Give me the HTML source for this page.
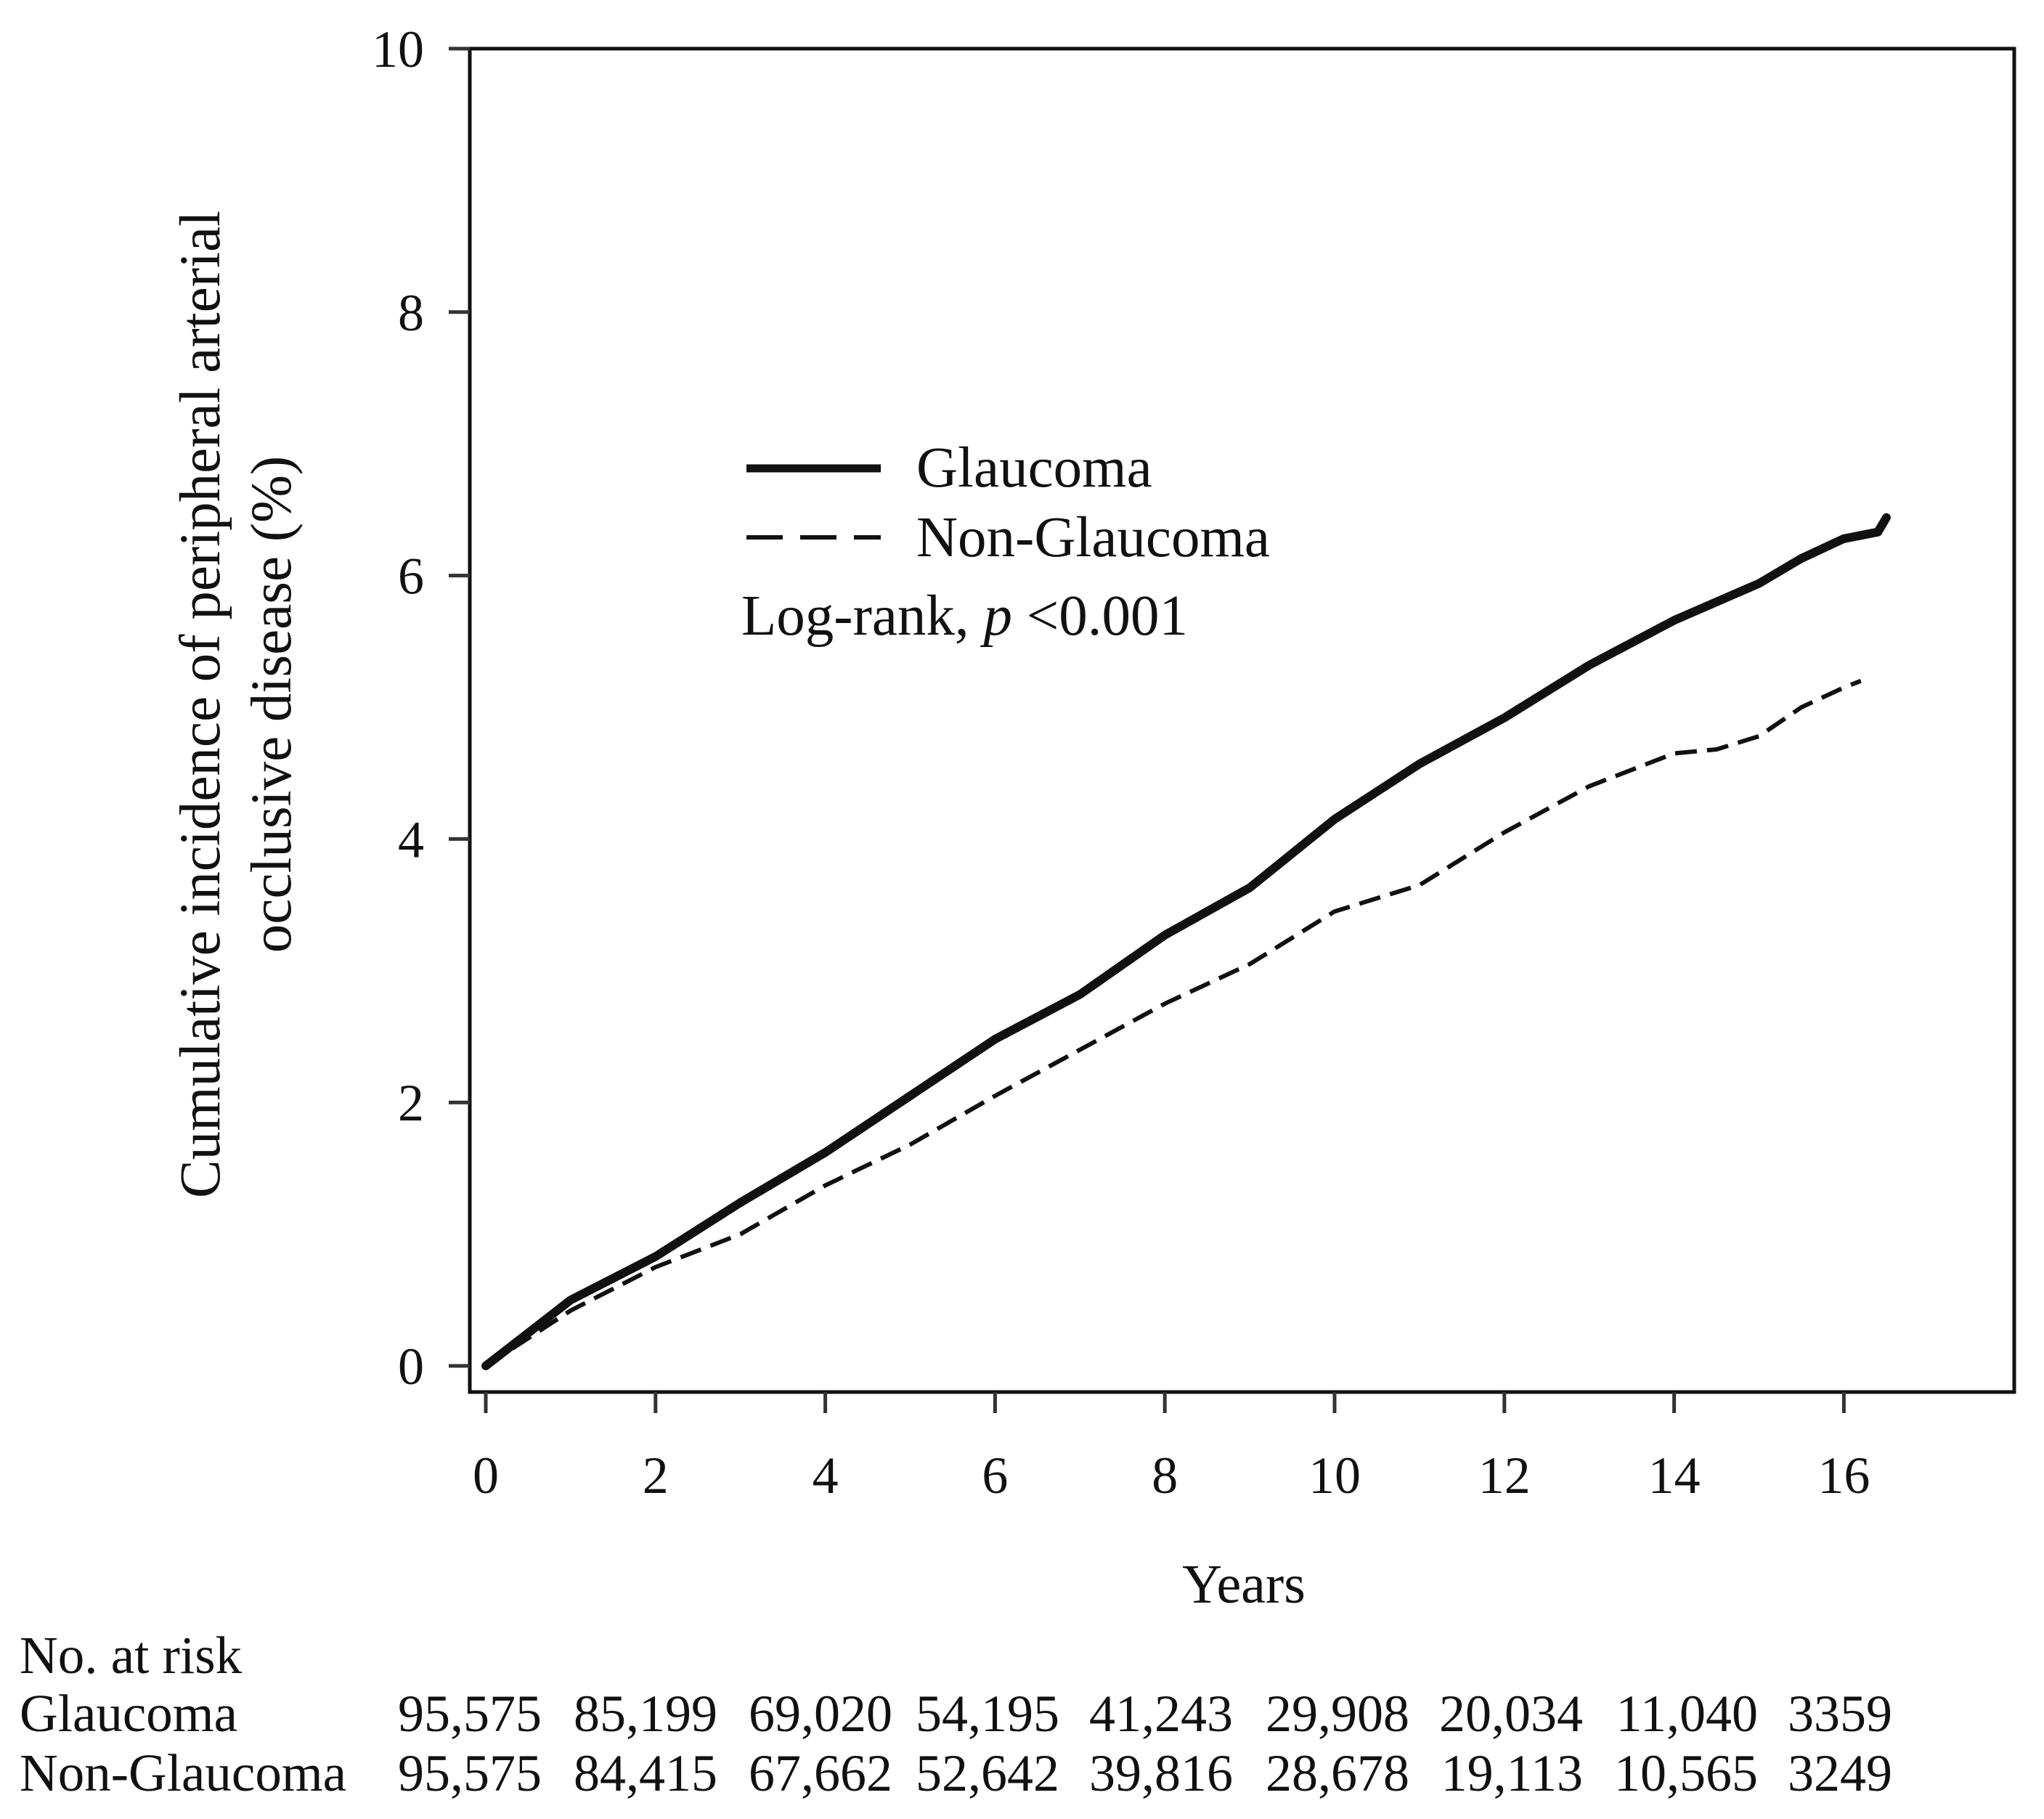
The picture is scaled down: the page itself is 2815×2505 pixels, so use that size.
<!DOCTYPE html>
<html><head><meta charset="utf-8"><style>
html,body{margin:0;padding:0;background:#fff;}
svg{display:block;font-family:"Liberation Serif","DejaVu Serif",serif;}
</style></head><body>
<svg id="chart" width="2815" height="2505" viewBox="0 0 2815 2505" xmlns="http://www.w3.org/2000/svg">
<rect x="0" y="0" width="2815" height="2505" fill="#fff"/>
<g id="axes"></g>
<g id="series"></g>
<text x="0" y="0" transform="translate(302,970) rotate(-90)" text-anchor="middle" font-size="79" fill="#111">Cumulative incidence of peripheral arterial</text>
<text x="0" y="0" transform="translate(400,970) rotate(-90)" text-anchor="middle" font-size="79" fill="#111">occlusive disease (%)</text>
<text x="1713" y="2207" text-anchor="middle" font-size="76" fill="#111">Years</text>
<g>
<line x1="1028" y1="645" x2="1213" y2="645" stroke="#111" stroke-width="11"/>
<text x="1262" y="670" font-size="79" fill="#111">Glaucoma</text>
<line x1="1028" y1="740" x2="1213" y2="740" stroke="#111" stroke-width="6" stroke-dasharray="50,24"/>
<text x="1262" y="766" font-size="79" fill="#111">Non-Glaucoma</text>
<text x="1021" y="874" font-size="79" fill="#111">Log-rank, <tspan font-style="italic">p</tspan> &lt;0.001</text>
</g>
<g id="risk">
<text x="27" y="2304" font-size="73" fill="#111">No. at risk</text>
<text x="27" y="2384" font-size="73" fill="#111">Glaucoma</text>
<text x="27" y="2466" font-size="73" fill="#111">Non-Glaucoma</text>
</g>
</svg>
<script>
const xTicks = [0, 2, 4, 6, 8, 10, 12, 14, 16];
const yTicks = [0, 2, 4, 6, 8, 10];
const glaucomaYears = [0, 1, 2, 3, 4, 5, 6, 7, 8, 9, 10, 11, 12, 13, 14, 15, 15.5, 16, 16.4, 16.5];
const glaucomaValues = [0, 0.5, 0.83, 1.24, 1.62, 2.05, 2.48, 2.82, 3.27, 3.63, 4.15, 4.57, 4.92, 5.32, 5.66, 5.94, 6.13, 6.28, 6.33, 6.44];
const nonGlaucomaYears = [0, 1, 2, 3, 4, 5, 6, 7, 8, 9, 10, 11, 12, 13, 14, 14.5, 15, 15.5, 16, 16.2];
const nonGlaucomaValues = [0, 0.42, 0.75, 1.0, 1.37, 1.68, 2.05, 2.4, 2.75, 3.05, 3.45, 3.65, 4.05, 4.4, 4.65, 4.68, 4.78, 5.0, 5.15, 5.2];
const riskGlaucoma = ["95,575", "85,199", "69,020", "54,195", "41,243", "29,908", "20,034", "11,040", "3359"];
const riskNonGlaucoma = ["95,575", "84,415", "67,662", "52,642", "39,816", "28,678", "19,113", "10,565", "3249"];

const NS = "http://www.w3.org/2000/svg";
const X0 = 669, XPER = 116.9, Y0 = 1881, YPER = 181.4;
const L = 647, R = 2774, T = 67, B = 1917;
function xs(v){ return X0 + v * XPER; }
function ys(v){ return Y0 - v * YPER; }
function mk(tag, attrs, parent){ const e = document.createElementNS(NS, tag); for (const k in attrs) e.setAttribute(k, attrs[k]); parent.appendChild(e); return e; }

const axes = document.getElementById('axes');
const frame = mk('rect', {x: L, y: T, width: R - L, height: B - T, fill: 'none', stroke: '#111', 'stroke-width': 5}, axes);


yTicks.forEach(v => {
  const t = mk('line', {x1: 618, x2: L, y1: ys(v), y2: ys(v), stroke: '#333', 'stroke-width': 5}, axes);
  
  
  const lb = mk('text', {x: 584, y: ys(v) + 25, 'text-anchor': 'end', 'font-size': 72, fill: '#111'}, axes);
  lb.textContent = v;
  
  
});
xTicks.forEach((v, i) => {
  const t = mk('line', {x1: xs(v), x2: xs(v), y1: B, y2: 1946, stroke: '#333', 'stroke-width': 5}, axes);
  
  
  const lb = mk('text', {x: xs(v), y: 2056, 'text-anchor': 'middle', 'font-size': 72, fill: '#111'}, axes);
  lb.textContent = v;
  
  
});

const series = document.getElementById('series');
function path(xsArr, vals){ return xsArr.map((x, i) => (i ? 'L' : 'M') + xs(x).toFixed(1) + ',' + ys(vals[i]).toFixed(1)).join(' '); }
const ng = mk('path', {d: path(nonGlaucomaYears, nonGlaucomaValues), fill: 'none', stroke: '#111', 'stroke-width': 6, 'stroke-dasharray': '30,14', 'stroke-linejoin': 'round'}, series);


const g = mk('path', {d: path(glaucomaYears, glaucomaValues), fill: 'none', stroke: '#111', 'stroke-width': 12, 'stroke-linejoin': 'round', 'stroke-linecap': 'round'}, series);



const risk = document.getElementById('risk');
const riskRight = [746, 988, 1229, 1459, 1698, 1941, 2180, 2421, 2606];
riskGlaucoma.forEach((s, i) => {
  const t = mk('text', {x: riskRight[i], y: 2384, 'text-anchor': 'end', 'font-size': 72, fill: '#111'}, risk);
  t.textContent = s;
  
  
});
riskNonGlaucoma.forEach((s, i) => {
  const t = mk('text', {x: riskRight[i], y: 2466, 'text-anchor': 'end', 'font-size': 72, fill: '#111'}, risk);
  t.textContent = s;
  
  
});
</script>
</body></html>
